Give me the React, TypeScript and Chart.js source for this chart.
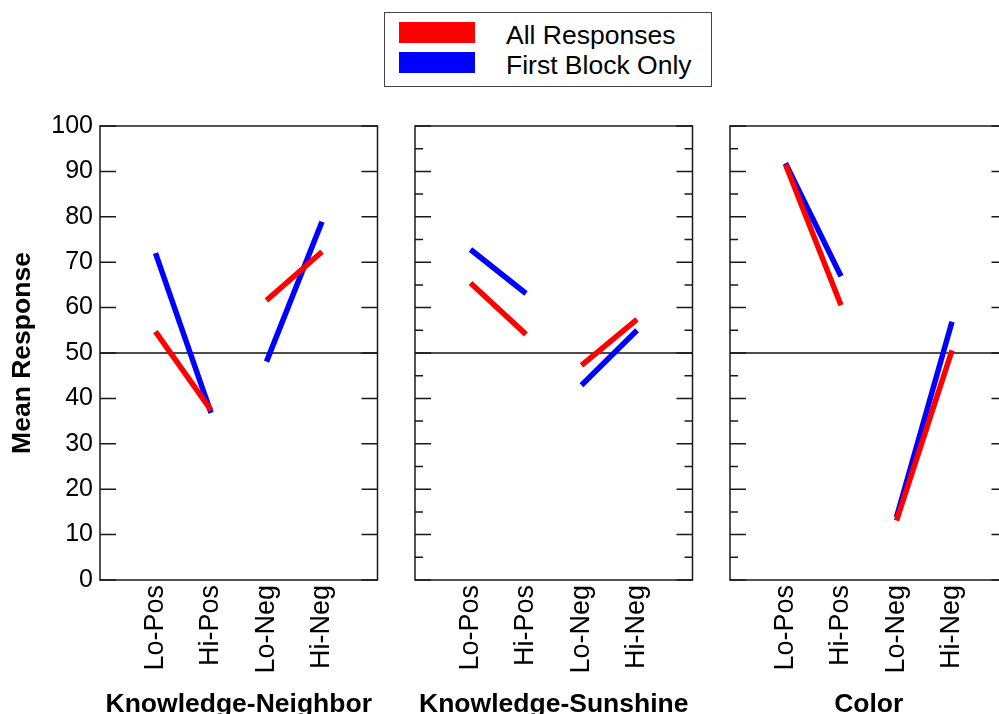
import React, { useEffect, useRef } from 'react';
import { Chart, registerables } from 'chart.js';

Chart.register(...registerables);

// categories and series
const conditions = ['Lo-Pos', 'Hi-Pos', 'Lo-Neg', 'Hi-Neg'];
const panelTitles = ['Knowledge-Neighbor', 'Knowledge-Sunshine', 'Color'];
const seriesNames = ['All Responses', 'First Block Only'];
const seriesColors = ['#ff0000', '#0000ff'];

const neighborAll = [54.7, 37.4, 61.6, 72.3];
const neighborFirst = [72.0, 36.8, 48.1, 78.9];
const sunshineAll = [65.4, 54.1, 47.3, 57.4];
const sunshineFirst = [72.8, 63.1, 42.9, 55.0];
const colorAll = [91.5, 60.5, 13.1, 50.6];
const colorFirst = [91.8, 66.9, 13.8, 56.9];

const panelAll = [neighborAll, sunshineAll, colorAll];
const panelFirst = [neighborFirst, sunshineFirst, colorFirst];

// y axis: tick marks every 5, labels every 10
const yTickValues = [0, 5, 10, 15, 20, 25, 30, 35, 40, 45, 50, 55, 60, 65, 70, 75, 80, 85, 90, 95, 100];
const yLabelValues = [0, 10, 20, 30, 40, 50, 60, 70, 80, 90, 100];
const referenceLine = 50;

const FONT = "'Liberation Sans', Arial, sans-serif";

// padded category list so the four conditions sit at 1..4 of 0..5
const xLabels = ['', ...conditions, ''];

const framePlugin = {
    id: 'frame',
    afterDatasetsDraw(chart: Chart) {
        const { ctx, chartArea } = chart;
        const { left, right, top, bottom } = chartArea;
        const y = chart.scales.y;
        ctx.save();
        ctx.strokeStyle = '#1a1a1a';
        ctx.lineWidth = 1.5;
        ctx.strokeRect(left, top, right - left, bottom - top);
        ctx.beginPath();
        y.ticks.forEach((t) => {
            const py = y.getPixelForValue(t.value);
            const len = t.value % 10 === 0 ? 16 : 8;
            ctx.moveTo(left, py);
            ctx.lineTo(left + len, py);
            ctx.moveTo(right - len, py);
            ctx.lineTo(right, py);
        });
        ctx.stroke();
        ctx.restore();
    },
};

// keep only the two points of one pair (Lo/Hi), so the pairs are not joined
const pairData = (values: number[], first: number) =>
    xLabels.map((_, i) => (i === first + 1 || i === first + 2 ? values[i - 1] : null));

const Panel: React.FC<{ index: number }> = ({ index }) => {
    const chartRef = useRef<HTMLCanvasElement | null>(null);
    const chartInstance = useRef<Chart | null>(null);

    useEffect(() => {
        if (!chartRef.current) return;
        const ctx = chartRef.current.getContext('2d');
        if (!ctx) return;
        if (chartInstance.current) chartInstance.current.destroy();

        const seriesValues = [panelAll[index], panelFirst[index]];
        const datasets: any[] = [];
        seriesValues.forEach((values, s) => {
            [0, 2].forEach((first) => {
                datasets.push({
                    label: seriesNames[s],
                    data: pairData(values, first),
                    borderColor: seriesColors[s],
                    borderWidth: 5.5,
                    pointRadius: 0,
                    spanGaps: false,
                    fill: false,
                });
            });
        });
        datasets.push({
            label: 'reference',
            data: xLabels.map((_, i) => (i === 0 || i === xLabels.length - 1 ? referenceLine : null)),
            borderColor: '#111',
            borderWidth: 1.3,
            pointRadius: 0,
            spanGaps: true,
            fill: false,
        });

        const showY = index === 0;

        chartInstance.current = new Chart(ctx, {
            type: 'line',
            data: { labels: xLabels, datasets },
            options: {
                responsive: false,
                animation: false,
                layout: { padding: { top: 126, right: 22.5, left: 0, bottom: 0 } },
                scales: {
                    x: {
                        type: 'category',
                        offset: false,
                        grid: { display: false, drawTicks: false },
                        border: { display: false },
                        ticks: {
                            autoSkip: false,
                            minRotation: 90,
                            maxRotation: 90,
                            padding: 5,
                            color: '#000',
                            font: { family: FONT, size: 27 },
                        },
                        title: {
                            display: true,
                            text: panelTitles[index],
                            color: '#000',
                            font: { family: FONT, size: 26.5, weight: 'bold' },
                            padding: { top: 0, bottom: 9 },
                        },
                        afterFit: (axis: any) => {
                            axis.height = 150;
                            // the empty end labels should not push the plot inwards
                            axis.paddingLeft = 0;
                            axis.paddingRight = 0;
                        },
                    },
                    y: {
                        min: 0,
                        max: 100,
                        grid: { display: false, drawTicks: false },
                        border: { display: false },
                        afterBuildTicks: (axis: any) => {
                            axis.ticks = yTickValues.map((v) => ({ value: v }));
                        },
                        ticks: {
                            display: showY,
                            padding: 7,
                            color: '#000',
                            font: { family: FONT, size: 25 },
                            callback: (v: any) => (yLabelValues.includes(Number(v)) ? String(v) : ''),
                        },
                        title: {
                            display: showY,
                            text: 'Mean Response',
                            color: '#000',
                            font: { family: FONT, size: 26.5, weight: 'bold' },
                            padding: { top: 7, bottom: 0 },
                        },
                        afterFit: (axis: any) => {
                            axis.width = 100;
                        },
                    },
                },
                plugins: {
                    legend: { display: false },
                    tooltip: { enabled: false },
                },
            },
            plugins: [framePlugin],
        });

        return () => {
            if (chartInstance.current) {
                chartInstance.current.destroy();
                chartInstance.current = null;
            }
        };
    }, [index]);

    return (
        <div style={{ position: 'absolute', left: 315 * index, top: 0, width: 400, height: 730 }}>
            <canvas ref={chartRef} width={400} height={730} style={{ width: 400, height: 730 }}></canvas>
        </div>
    );
};

const App: React.FC = () => {
    return (
        <div
            style={{
                position: 'absolute',
                left: 0,
                top: 0,
                width: 999,
                height: 714,
                overflow: 'hidden',
                background: '#fff',
                fontFamily: FONT,
            }}
        >
            {panelTitles.map((_, i) => (
                <Panel key={i} index={i} />
            ))}
            <div
                style={{
                    position: 'absolute',
                    left: 384,
                    top: 11.5,
                    width: 326,
                    height: 73,
                    border: '1.5px solid #444',
                    background: '#fff',
                }}
            >
                {seriesNames.map((name, s) => (
                    <React.Fragment key={name}>
                        <div
                            style={{
                                position: 'absolute',
                                left: 14,
                                top: 9 + 30 * s,
                                width: 76,
                                height: 21,
                                background: seriesColors[s],
                            }}
                        />
                        <div
                            style={{
                                position: 'absolute',
                                left: 121,
                                top: 9 + 30 * s,
                                fontSize: 26.5,
                                lineHeight: '26px',
                                color: '#000',
                                whiteSpace: 'nowrap',
                            }}
                        >
                            {name}
                        </div>
                    </React.Fragment>
                ))}
            </div>
        </div>
    );
};

export default App;
